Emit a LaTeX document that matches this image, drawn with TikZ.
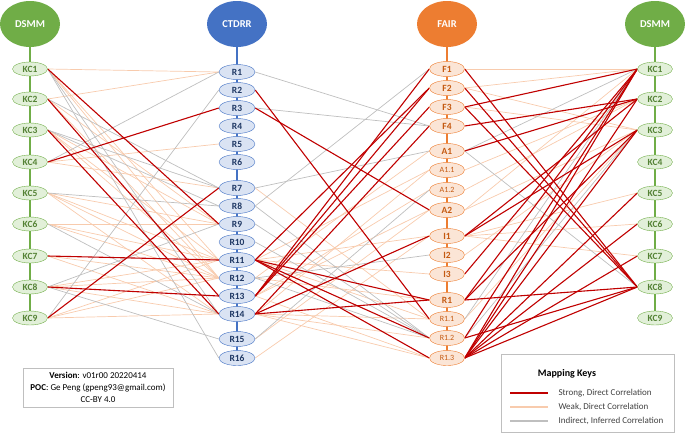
\documentclass[tikz,border=0pt]{standalone}
\usepackage{fontspec}
\setmainfont{Carlito}
\usetikzlibrary{shapes.geometric,backgrounds}
\definecolor{dsmmgreen}{HTML}{70AD47}
\definecolor{dsmmfill}{HTML}{E2F0D9}
\definecolor{dsmmtext}{HTML}{548235}
\definecolor{ctdrrblue}{HTML}{4472C4}
\definecolor{ctdrrfill}{HTML}{DAE3F3}
\definecolor{ctdrrtext}{HTML}{1F3864}
\definecolor{fairorange}{HTML}{ED7D31}
\definecolor{fairfill}{HTML}{FBE5D6}
\definecolor{fairtext}{HTML}{C55A11}
\definecolor{strongred}{HTML}{C00000}
\definecolor{weakorange}{HTML}{F8CBAD}
\definecolor{indirectgrey}{HTML}{BFBFBF}
\definecolor{keygrey}{HTML}{404040}
\tikzset{
header/.style={
ellipse,
minimum width=60pt,
minimum height=46pt,
inner sep=0pt,
text=white,
font=\bfseries\fontsize{10.5}{12}\selectfont
},
kcnode/.style={
ellipse,
draw=dsmmgreen,
fill=dsmmfill,
text=dsmmtext,
minimum width=35pt,
minimum height=14pt,
inner sep=0pt,
font=\bfseries\fontsize{9.5}{11}\selectfont
},
rnode/.style={
ellipse,
draw=ctdrrblue,
fill=ctdrrfill,
text=ctdrrtext,
minimum width=36pt,
minimum height=15pt,
inner sep=0pt,
font=\bfseries\fontsize{9.5}{11}\selectfont
},
fnode/.style={
ellipse,
draw=fairorange,
fill=fairfill,
text=fairtext,
minimum width=35pt,
minimum height=15pt,
inner sep=0pt,
font=\bfseries\fontsize{9.5}{11}\selectfont
},
subnode/.style={
fnode,
font=\fontsize{8}{9}\selectfont
},
spine/.style={line width=1.5pt},
strong/.style={draw=strongred, line width=1.1pt},
weak/.style={draw=weakorange, line width=0.7pt},
indirect/.style={draw=indirectgrey, line width=0.7pt},
keytext/.style={anchor=west, text=keygrey, font=\fontsize{9}{10}\selectfont}
}
\begin{document}
\begin{tikzpicture}[x=1pt,y=-1pt]
\useasboundingbox (0,0) rectangle (685,434);
% column headers
\node[header,fill=dsmmgreen](ldsmm) at (30,24){DSMM};
\node[header,fill=ctdrrblue](ctdrr) at (237,24){CTDRR};
\node[header,fill=fairorange](fair) at (447,24){FAIR};
\node[header,fill=dsmmgreen](rdsmm) at (655,24){DSMM};

% key components, both sides
\foreach \i/\y in {1/69,2/99,3/130,4/162,5/193,6/224,7/256,8/287,9/318}{
\node[kcnode](lkc\i) at (30,\y){KC\i};
\node[kcnode](rkc\i) at (655,\y){KC\i};
}
% CTDRR requirements
\foreach \i/\y in {1/72,2/90,3/108,4/126,5/144,6/162,7/188,8/206,9/224,10/242,11/260,12/278,13/296,14/314,15/339,16/358}
\node[rnode](r\i) at (237,\y){R\i};
% FAIR principles
\foreach \n/\t/\y in {f1/F1/69,f2/F2/88,f3/F3/107,f4/F4/126,a1/A1/151,a2/A2/210,i1/I1/236,i2/I2/255,i3/I3/274,fr1/R1/300}
\node[fnode](\n) at (447,\y){\t};
\foreach \n/\t/\y in {a11/A1.1/170,a12/A1.2/190,fr11/R1.1/319,fr12/R1.2/338,fr13/R1.3/358}
\node[subnode](\n) at (447,\y){\t};

\begin{scope}[on background layer]
\draw[spine,dsmmgreen](ldsmm.south)--(lkc9.center);
\draw[spine,ctdrrblue](ctdrr.south)--(r16.center);
\draw[spine,fairorange](fair.south)--(fr13.center);
\draw[spine,dsmmgreen](rdsmm.south)--(rkc9.center);

% DSMM to CTDRR
\foreach \a/\b in {1/1,2/1,4/5,4/7,1/11,1/12,2/9,2/12,3/9,3/11,3/12,5/9,5/11,5/12,5/14,6/9,6/11,6/12,7/12,7/14,8/11,8/12,8/14,9/11,9/12,9/14}
\draw[weak](lkc\a.east)--(r\b.west);
\foreach \a/\b in {4/1,9/2,2/7,3/7,3/8,5/8,6/14,8/9,8/15,1/14,1/16}
\draw[indirect](lkc\a.east)--(r\b.west);
\foreach \a/\b in {1/9,2/13,3/14,4/3,7/11,8/13,9/7}
\draw[strong](lkc\a.east)--(r\b.west);

% CTDRR to FAIR
\foreach \a/\b in {7/fr11,11/a11,11/i1,11/i3,11/fr11,12/a1,12/fr1,13/a12,13/a2,13/fr13,14/a11,14/fr11,14/fr12,14/fr13,15/a2,16/i1}
\draw[weak](r\a.east)--(\b.west);
\foreach \a/\b in {1/f4,3/f4,7/a1,8/f1,8/fr12,9/fr12,10/fr12,12/fr12,12/i2,15/a12}
\draw[indirect](r\a.east)--(\b.west);
\foreach \a/\b in {2/fr11,3/a2,11/fr1,11/fr12,11/fr13,11/f2,13/f1,13/f2,13/f3,14/f4,14/i1,14/fr1}
\draw[strong](r\a.east)--(\b.west);

% FAIR to DSMM
\foreach \a/\b in {f1/1,f2/1,f2/3,f3/3,a11/2,a12/2,a2/1,a2/3,i1/5,i1/6,i1/7,i2/3,fr11/3}
\draw[weak](\a.east)--(rkc\b.west);
\foreach \a/\b in {a1/1,a1/8,fr11/1,fr12/3}
\draw[indirect](\a.east)--(rkc\b.west);
\foreach \a/\b in {f1/8,f2/8,f3/8,f3/1,f4/2,a1/2,i1/2,i1/3,i3/1,fr1/1,fr1/3,fr1/8,fr12/1,fr12/8,fr13/1,fr13/2,fr13/3,fr13/5,fr13/6,fr13/7,fr13/8}
\draw[strong](\a.east)--(rkc\b.west);
\end{scope}

% version box
\node[draw=indirectgrey,minimum width=150pt,minimum height=39pt,align=center,inner sep=1pt,font=\fontsize{9}{12}\selectfont](version) at (98,387.5){\textbf{Version}: v01r00 20220414\\\textbf{POC}: Ge Peng (gpeng93@gmail.com)\\CC-BY 4.0};

% mapping keys
\node[draw=indirectgrey,minimum width=173pt,minimum height=78pt](keybox) at (587.5,393){};
\node[font=\bfseries\fontsize{10}{12}\selectfont](keytitle) at (567,374){Mapping Keys};
\coordinate(s1) at (510,393);
\coordinate(s2) at (548,393);
\coordinate(w1) at (510,407);
\coordinate(w2) at (548,407);
\coordinate(g1) at (510,421);
\coordinate(g2) at (548,421);
\draw[strong,line width=1.3pt](s1)--(s2);
\draw[weak,line width=1.3pt](w1)--(w2);
\draw[indirect,line width=1.3pt](g1)--(g2);
\node[keytext](strongkey) at (555,393){Strong, Direct Correlation};
\node[keytext](weakkey) at (555,407){Weak, Direct Correlation};
\node[keytext](indirectkey) at (555,421){Indirect, Inferred Correlation};
\end{tikzpicture}
\end{document}
